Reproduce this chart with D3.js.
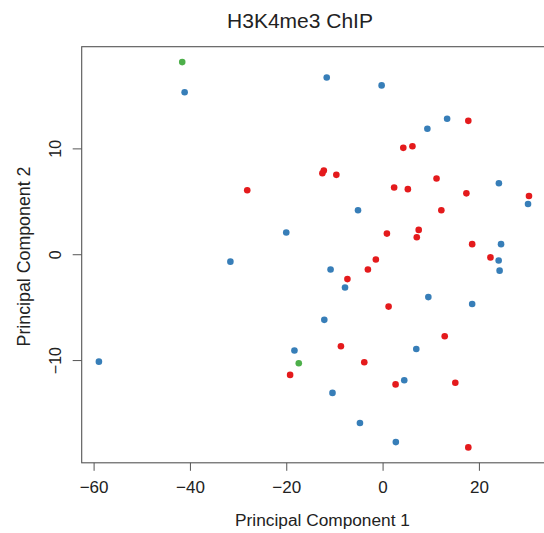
<!DOCTYPE html>
<html>
<head>
<meta charset="utf-8">
<script src="https://cdn.jsdelivr.net/npm/d3@7"></script>
<style>
  html, body { margin: 0; padding: 0; background: #fff; }
  svg { display: block; font-family: "Liberation Sans", Arial, sans-serif; }
</style>
</head>
<body>
<svg id="chart" width="544" height="533"></svg>
<script>
// PCA scores per sample (PC1, PC2) and the sample group of each
const pc1 = [
  -41.6, -41.1, -11.6, -0.2, 13.4, 17.8, 9.3, 4.3, 6.2, -12.2,
  -12.5, -9.6, -28.1, 11.2, 2.4, 5.25, 17.4, 24.15, 30.4, 30.2,
  -5.1, 12.2, -20.0, 7.5, 7.1, 0.9, 18.6, 24.6, -31.6, -1.4,
  -3.05, -10.8, 22.4, 24.1, 24.3, -7.3, -7.8, 9.5, 18.6, 1.25,
  -12.1, 12.9, -8.65, 7.0, -18.3, -17.4, -3.8, -58.9, -19.2, 4.5,
  2.7, 15.1, -10.4, -4.7, 2.75, 17.8
];
const pc2 = [
  18.15, 15.3, 16.7, 15.95, 12.8, 12.6, 11.85, 10.05, 10.2, 7.9,
  7.65, 7.5, 6.05, 7.15, 6.3, 6.15, 5.75, 6.7, 5.5, 4.75,
  4.15, 4.15, 2.05, 2.3, 1.6, 1.95, 0.95, 0.95, -0.7, -0.5,
  -1.45, -1.45, -0.3, -0.6, -1.55, -2.35, -3.15, -4.05, -4.7, -4.95,
  -6.2, -7.75, -8.7, -8.95, -9.1, -10.3, -10.2, -10.15, -11.4, -11.9,
  -12.3, -12.15, -13.1, -15.95, -17.75, -18.25
];
const group = [
  "C", "B", "B", "B", "B", "A", "B", "A", "A", "A",
  "A", "A", "A", "A", "A", "A", "A", "B", "A", "B",
  "B", "A", "B", "A", "A", "A", "A", "B", "B", "A",
  "A", "B", "A", "B", "B", "A", "B", "B", "B", "A",
  "B", "A", "A", "B", "B", "C", "A", "B", "A", "B",
  "A", "A", "B", "B", "B", "A"
];
const groups = ["A", "B", "C"];
const groupColors = ["#E41A1C", "#377EB8", "#4DAF4A"];
const xTicks = [-60, -40, -20, 0, 20];
const yTicks = [-10, 0, 10];

const svg = d3.select("#chart");
const ink = "#555";

// plot region; the frame runs slightly past the right edge of the page
const plotLeft = 81.7, plotTop = 46.7, plotRight = 546.2, plotBottom = 462.8;

// base-graphics style range padding of 4% on each side
function padded(v) {
  const [lo, hi] = d3.extent(v);
  const p = (hi - lo) * 0.04;
  return [lo - p, hi + p];
}

const x = d3.scaleLinear().domain(padded(pc1)).range([plotLeft, plotRight]);
const y = d3.scaleLinear().domain(padded(pc2)).range([plotBottom, plotTop]);
const color = d3.scaleOrdinal().domain(groups).range(groupColors);

// title
svg.append("text")
  .attr("x", 300).attr("y", 28.3)
  .attr("text-anchor", "middle")
  .attr("font-size", 21)
  .attr("fill", "#222")
  .text("H3K4me3 ChIP");

// points
svg.append("g")
  .selectAll("circle")
  .data(pc1.map((v, i) => ({ x: v, y: pc2[i], g: group[i] })))
  .join("circle")
  .attr("cx", d => x(d.x))
  .attr("cy", d => y(d.y))
  .attr("r", 3.3)
  .attr("fill", d => color(d.g));

// x axis
const gx = svg.append("g")
  .attr("transform", `translate(0,${plotBottom})`)
  .call(d3.axisBottom(x).tickValues(xTicks).tickSize(8).tickSizeOuter(0).tickPadding(10));
gx.select(".domain").remove();
gx.selectAll(".tick line").attr("stroke", ink);
gx.selectAll(".tick text")
  .attr("font-size", 17)
  .attr("fill", "#222")
  .attr("font-family", "Liberation Sans, Arial, sans-serif");

// y axis, labels parallel to the axis
const gy = svg.append("g")
  .attr("transform", `translate(${plotLeft},0)`)
  .call(d3.axisLeft(y).tickValues(yTicks).tickSize(9).tickSizeOuter(0));
gy.select(".domain").remove();
gy.selectAll(".tick line").attr("stroke", ink);
gy.selectAll(".tick text")
  .attr("x", null).attr("dy", null)
  .attr("transform", "translate(-20.5,0) rotate(-90)")
  .attr("text-anchor", "middle")
  .attr("font-size", 16)
  .attr("fill", "#222")
  .attr("font-family", "Liberation Sans, Arial, sans-serif");

// frame
svg.append("rect")
  .attr("x", plotLeft).attr("y", plotTop)
  .attr("width", plotRight - plotLeft).attr("height", plotBottom - plotTop)
  .attr("fill", "none")
  .attr("stroke", ink)
  .attr("stroke-width", 1.1);

// axis titles
svg.append("text")
  .attr("x", 322.5).attr("y", 526)
  .attr("text-anchor", "middle")
  .attr("font-size", 17.3)
  .attr("fill", "#222")
  .text("Principal Component 1");

svg.append("text")
  .attr("transform", `translate(30,${(165 + 348) / 2}) rotate(-90)`)
  .attr("text-anchor", "middle")
  .attr("font-size", 17.8)
  .attr("fill", "#222")
  .text("Principal Component 2");
</script>
</body>
</html>
